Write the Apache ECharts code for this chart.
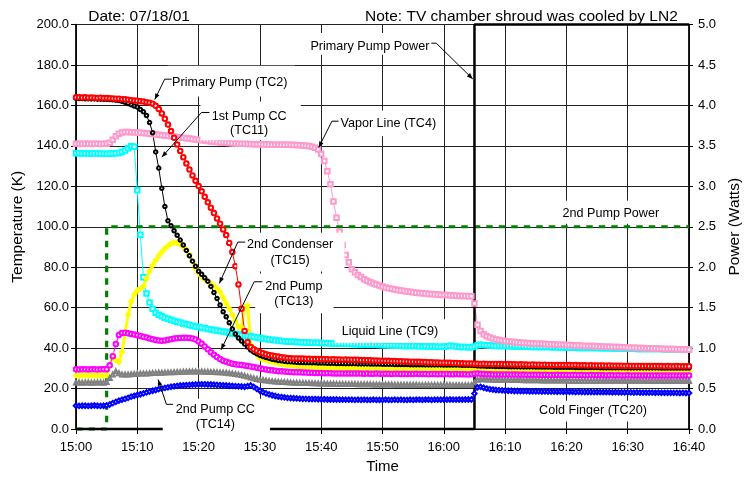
<!DOCTYPE html>
<html><head><meta charset="utf-8">
<script src="https://cdn.jsdelivr.net/npm/echarts@6/dist/echarts.min.js"></script>
<style>html,body{margin:0;padding:0;background:#fff}#c{width:751px;height:479px}</style>
</head><body><div id="c"></div>
<script>
// ---- tick labels ----
const timeTicks = ['15:00','15:10','15:20','15:30','15:40','15:50','16:00','16:10','16:20','16:30','16:40'];
const tempTicks = ['0.0','20.0','40.0','60.0','80.0','100.0','120.0','140.0','160.0','180.0','200.0'];
const powerTicks = ['0.0','0.5','1.0','1.5','2.0','2.5','3.0','3.5','4.0','4.5','5.0'];

// ---- temperatures (K), one logged sample every 0.5 min from 15:00 ----
const sampleStepMin = 0.5;
const tc2 = [ // Primary Pump (TC2)
164,164,163.9,164,163.8,163.9,163.8,163.7,163.8,163.6,
163.6,163.5,163.4,163.3,163.3,163.1,163,162.8,162.6,162.4,
162.3,162.1,161.9,161.6,161.3,160.8,159.8,158.2,156,153.4,
150.5,147.3,144,140.7,137.5,134.4,131.3,128.3,125.4,122.7,
120.1,117.5,114.8,112.1,109.4,106.8,104.1,101.5,98.7,95.9,
92,87.5,80.5,71.5,59.5,48.5,43,40.5,39.4,38.7,
38,37.5,37,36.6,36.3,36,35.8,35.5,35.3,35.1,
35,34.9,34.9,34.8,34.8,34.7,34.7,34.6,34.6,34.6,
34.6,34.5,34.5,34.4,34.5,34.4,34.4,34.3,34.4,34.3,
34.3,34.2,34.3,34.1,34.1,34,34,33.9,33.9,33.8,
33.8,33.7,33.7,33.6,33.6,33.5,33.5,33.4,33.4,33.3,
33.3,33.2,33.2,33.1,33.1,33,33,32.9,32.9,32.8,
32.8,32.7,32.7,32.6,32.6,32.5,32.5,32.4,32.4,32.4,
32.3,32.3,32.2,32.3,32.2,32.2,32.1,32.2,32.1,32.1,
32,32.1,32,32,31.9,32,31.9,31.9,31.8,31.9,
31.8,31.8,31.7,31.8,31.7,31.7,31.7,31.6,31.7,31.6,
31.6,31.6,31.5,31.6,31.5,31.5,31.5,31.4,31.5,31.4,
31.4,31.4,31.4,31.3,31.4,31.3,31.3,31.3,31.3,31.2,
31.3,31.2,31.2,31.2,31.2,31.1,31.2,31.1,31.1,31.1,
31.1,31.1,31,31.1,31,31,31.1,31,31,31,
31];
const tc11 = [ // 1st Pump CC (TC11)
163.5,163.4,163.4,163.3,163.3,163.2,163.2,163.1,163.1,163,
163,162.9,162.8,162.6,162.4,162,161.5,160.9,160.3,159.7,
159.2,158,156.8,155,151.5,146.5,137,129,119,110,
103,100.5,98,95.8,93.4,91,88.3,85.6,83,80.5,
78,76.5,74.8,73,70.5,67.5,64.5,61.3,58,55.5,
52.5,49.5,47,45,43.5,42,40.5,39,38,37.2,
36.4,35.8,35.3,34.9,34.5,34.2,33.9,33.7,33.5,33.3,
33.2,33.1,33,32.9,32.9,32.8,32.8,32.7,32.7,32.6,
32.6,32.6,32.5,32.5,32.5,32.4,32.4,32.4,32.3,32.3,
32.3,32.3,32.2,32.2,32.2,32.2,32.1,32.1,32.1,32.1,
32,32,32,32,31.9,31.9,31.9,31.9,31.9,31.8,
31.8,31.8,31.8,31.8,31.7,31.7,31.7,31.7,31.7,31.7,
31.6,31.6,31.6,31.6,31.6,31.6,31.5,31.5,31.5,31.5,
31.4,31.2,31.1,31.1,31,31,31,30.9,30.9,30.9,
30.9,30.8,30.8,30.8,30.8,30.7,30.7,30.7,30.7,30.7,
30.6,30.6,30.6,30.6,30.6,30.6,30.5,30.5,30.5,30.5,
30.5,30.5,30.5,30.4,30.4,30.4,30.4,30.4,30.4,30.4,
30.4,30.3,30.3,30.3,30.3,30.3,30.3,30.3,30.3,30.3,
30.2,30.2,30.2,30.2,30.2,30.2,30.2,30.2,30.2,30.2,
30.2,30.1,30.1,30.1,30.1,30.1,30.1,30.1,30.1,30.1,
30.1];
const tc4 = [ // Vapor Line (TC4)
141,141,140.9,141,141,140.9,141,141,140.9,141,
141.1,141.5,143,144.8,146,146.6,146.8,146.8,146.7,146.7,
146.6,146.5,146.3,146.2,146,145.8,145.6,145.5,145.3,145.1,
145,144.8,144.6,144.4,144.2,144,143.8,143.6,143.4,143.2,
143,142.8,142.6,142.4,142.2,142,141.9,141.7,141.6,141.5,
141.4,141.3,141.2,141.1,141,141,140.9,140.9,140.8,140.8,
140.8,140.7,140.7,140.7,140.6,140.6,140.6,140.5,140.5,140.5,
140.5,140.4,140.4,140.3,140.2,140.1,139.9,139.6,139,138.2,
136,132.5,127.5,121,112.5,104.5,97.5,91,86,82.5,
79,77.5,76.2,75.1,74.1,73.3,72.6,72,71.4,70.9,
70.4,70,69.6,69.3,69,68.7,68.5,68.2,68,67.8,
67.6,67.4,67.3,67.1,67,66.8,66.7,66.6,66.5,66.4,
66.3,66.2,66.1,66,65.9,65.8,65.8,65.7,65.6,65.6,
62,51.5,48.5,46.8,45.9,45.2,44.7,44.3,44,43.7,
43.5,43.3,43.1,43,42.9,42.7,42.6,42.5,42.4,42.3,
42.2,42.1,42.1,42,41.9,41.9,41.8,41.7,41.7,41.6,
41.5,41.5,41.4,41.3,41.3,41.2,41.1,41.1,41,41,
40.9,40.8,40.8,40.7,40.7,40.6,40.5,40.5,40.4,40.4,
40.3,40.2,40.2,40.1,40.1,40,39.9,39.9,39.8,39.8,
39.7,39.7,39.6,39.6,39.5,39.5,39.4,39.4,39.3,39.3,
39.2];
const tc9 = [ // Liquid Line (TC9)
136.3,136.3,136.2,136.3,136.2,136.2,136.3,136.2,136.2,136.1,
136.1,136.1,136.2,136.3,136.5,136.9,137.7,138.8,139.8,139.5,
118,96,75,67,62.5,59.5,57.5,56.5,55.7,55,
54.5,54,53.5,53,52.6,52.2,51.8,51.4,51,50.7,
50.4,50.1,49.8,49.5,49.2,48.9,48.7,48.4,48.2,47.9,
47.5,47.2,47,46.7,46.5,46.2,46,45.8,45.5,45.3,
45,44.8,44.5,44.3,44.1,43.9,43.7,43.5,43.4,43.3,
43.2,43.1,43,42.9,42.9,42.8,42.7,42.7,42.6,42.6,
42.5,42.5,42.4,42.4,42.3,42.2,42.2,42.1,42.1,42,
42,41.9,41.9,41.8,41.8,41.7,41.7,41.6,41.6,41.5,
41.5,41.4,41.4,41.3,41.3,41.2,41.2,41.1,41.1,41,
41,41,40.9,40.9,40.9,40.8,40.8,40.8,40.7,40.7,
40.7,40.9,41.2,41,40.8,40.6,40.5,40.5,40.4,40.4,
40.8,41.4,41.6,41.5,41.4,41.3,41.2,41.1,41.1,41,
41,40.9,40.9,40.8,40.8,40.8,40.7,40.7,40.7,40.6,
40.6,40.6,40.5,40.5,40.5,40.4,40.4,40.4,40.3,40.3,
40.3,40.2,40.2,40.2,40.1,40.1,40.1,40,40,40,
40,39.9,39.9,39.9,39.9,39.8,39.8,39.8,39.8,39.7,
39.7,39.7,39.7,39.6,39.6,39.6,39.6,39.5,39.5,39.5,
39.5,39.5,39.4,39.4,39.4,39.4,39.3,39.3,39.3,39.3,
39.3];
const tc15 = [ // 2nd Condenser (TC15)
26.5,26.4,26.5,26.5,26.4,26.5,26.4,26.5,26.5,26.4,
26.6,31,36.5,34,33,38,47,56.5,63,66.5,
68.5,69.3,70.5,74.5,78,81,83.5,85.6,87.5,89.2,
90.6,91.6,92.2,92.1,91.2,90,88.6,86.2,83,79.5,
77,75.3,74,73,72,70.8,69.5,67.8,65,62,
59.5,56.5,53.5,50.5,50,60.5,61,41.5,40,37,
35,34.5,34,33.6,33.2,32.8,32.5,32.2,31.9,31.6,
31.4,31.2,31,30.9,30.8,30.7,30.6,30.5,30.5,30.4,
30.3,30.3,30.2,30.2,30.1,30.1,30,30,30,29.9,
29.9,29.9,29.8,29.8,29.8,29.8,29.7,29.7,29.7,29.7,
29.7,29.6,29.6,29.6,29.6,29.6,29.5,29.5,29.5,29.5,
29.5,29.5,29.5,29.4,29.4,29.4,29.4,29.4,29.4,29.4,
29.4,29.4,29.3,29.3,29.3,29.3,29.3,29.3,29.3,29.3,
29.2,29.1,29.1,29.1,29.1,29,29,29,29,29,
29,28.9,28.9,28.9,28.9,28.9,28.9,28.8,28.8,28.8,
28.8,28.8,28.8,28.8,28.7,28.7,28.7,28.7,28.7,28.7,
28.7,28.7,28.6,28.6,28.6,28.6,28.6,28.6,28.6,28.6,
28.6,28.5,28.5,28.5,28.5,28.5,28.5,28.5,28.5,28.5,
28.5,28.5,28.4,28.4,28.4,28.4,28.4,28.4,28.4,28.4,
28.4,28.4,28.4,28.4,28.4,28.3,28.3,28.3,28.3,28.3,
28.3];
const tc13 = [ // 2nd Pump (TC13)
29.5,29.4,29.5,29.5,29.4,29.5,29.5,29.4,29.5,29.5,
29.6,31.5,36,42,46.5,47.5,47.6,47.3,47,46.7,
46.4,46,45.6,45.2,44.8,44.4,44,43.7,43.6,43.8,
44.1,44.4,44.7,44.9,45,45.1,45.1,45,44.8,44.2,
43.3,42.2,40.8,39.4,38,36.7,35.6,34.6,33.8,33.2,
32.7,32.3,32,31.8,31.6,31.4,31.2,30.9,30.6,30.3,
30,29.7,29.4,29.2,29,28.8,28.6,28.5,28.4,28.3,
28.2,28.1,28,28,27.9,27.9,27.8,27.8,27.7,27.7,
27.7,27.6,27.6,27.6,27.5,27.5,27.5,27.5,27.4,27.4,
27.4,27.4,27.4,27.4,27.3,27.4,27.3,27.3,27.4,27.3,
27.3,27.3,27.3,27.2,27.3,27.3,27.2,27.3,27.2,27.2,
27.2,27.3,27.2,27.2,27.2,27.1,27.2,27.2,27.1,27.2,
27.1,27.2,27.1,27.1,27.2,27.1,27.1,27.1,27,27.1,
27.3,27.4,27.3,27.2,27.1,27.1,27,27,27,26.9,
26.9,27,26.9,26.9,26.9,26.8,26.9,26.8,26.8,26.8,
26.8,26.8,26.7,26.8,26.7,26.7,26.7,26.8,26.7,26.7,
26.7,26.6,26.7,26.7,26.6,26.7,26.6,26.6,26.7,26.6,
26.6,26.6,26.6,26.5,26.6,26.6,26.5,26.6,26.5,26.5,
26.6,26.5,26.5,26.5,26.5,26.4,26.5,26.5,26.4,26.5,
26.4,26.5,26.4,26.4,26.4,26.5,26.4,26.4,26.4,26.4,
26.4];
const tc14 = [ // 2nd Pump CC (TC14)
23,23,22.9,23,23,22.9,23,23,23,22.9,
23.2,25.2,27,28.5,27.6,27,26.9,27,27.1,27.2,
27.3,27.4,27.5,27.5,27.6,27.7,27.7,27.8,27.8,27.9,
28,28,28.1,28.2,28.2,28.3,28.3,28.4,28.4,28.4,
28.4,28.4,28.3,28.3,28.2,28.2,28.1,28,27.9,27.8,
27.6,27.4,27.2,27,26.7,26.3,25.9,25.5,25.1,24.7,
24.4,24.2,24,23.8,23.6,23.5,23.4,23.3,23.2,23.1,
23,22.9,22.9,22.8,22.8,22.7,22.7,22.6,22.6,22.5,
22.5,22.5,22.4,22.4,22.4,22.3,22.3,22.3,22.2,22.2,
22.2,22.2,22.1,22.1,22.1,22.1,22.1,22,22,22,
22,22,22,22,21.9,21.9,21.9,21.9,21.9,21.9,
21.9,21.9,21.8,21.8,21.8,21.8,21.8,21.8,21.8,21.8,
21.8,21.8,21.8,21.7,21.7,21.7,21.7,21.7,21.7,21.7,
23,24.4,24.6,24.6,24.5,24.5,24.4,24.4,24.4,24.3,
24.3,24.3,24.2,24.2,24.2,24.2,24.1,24.1,24.1,24.1,
24.1,24.1,24,24,24,24,24,24,24,24,
24,23.9,23.9,23.9,23.9,23.9,23.9,23.9,23.9,23.9,
23.9,23.9,23.8,23.8,23.8,23.8,23.8,23.8,23.8,23.8,
23.8,23.8,23.8,23.8,23.8,23.8,23.8,23.7,23.7,23.7,
23.7,23.7,23.7,23.7,23.7,23.7,23.7,23.7,23.7,23.7,
23.7];
const tc20 = [ // Cold Finger (TC20)
11.5,11.4,11.5,11.5,11.4,11.5,11.6,11.5,11.4,11.5,
11.6,12.1,12.8,13.4,14,14.5,14.9,15.4,16,16.4,
16.8,17.2,17.6,18.1,18.5,18.9,19.3,19.7,20,20.3,
20.6,20.9,21.1,21.3,21.5,21.6,21.7,21.8,21.9,22,
22.1,22.1,22.1,22,22,21.9,21.8,21.7,21.6,21.5,
21.4,21.3,21.2,21.1,21,20.9,21.2,21.5,20.8,19.8,
18.9,18.2,17.6,17.1,16.7,16.3,16,15.8,15.6,15.4,
15.3,15.2,15.1,15,14.9,14.9,14.8,14.8,14.8,14.7,
14.7,14.7,14.6,14.6,14.6,14.6,14.5,14.5,14.5,14.5,
14.5,14.4,14.5,14.4,14.5,14.4,14.4,14.5,14.4,14.4,
14.4,14.5,14.4,14.4,14.5,14.4,14.5,14.4,14.4,14.5,
14.4,14.5,14.5,14.4,14.5,14.5,14.4,14.5,14.5,14.5,
14.5,14.5,14.6,14.5,14.5,14.6,14.5,14.6,14.6,14.6,
17.5,20.6,20.8,20.4,20,19.7,19.5,19.3,19.2,19.1,
19,18.9,18.9,18.8,18.8,18.7,18.7,18.7,18.6,18.6,
18.6,18.6,18.5,18.6,18.5,18.5,18.5,18.4,18.5,18.4,
18.4,18.4,18.4,18.3,18.4,18.3,18.3,18.3,18.3,18.2,
18.3,18.2,18.2,18.2,18.2,18.1,18.2,18.1,18.1,18.1,
18.1,18.1,18,18.1,18,18,18,18,18,17.9,
18,17.9,17.9,17.9,17.9,17.9,17.9,17.8,17.9,17.8,
17.8];

// ---- heater powers (W) ----
const primaryPowerMin = [0, 65, 65, 100];
const primaryPowerW   = [0, 0, 5, 5];
const secondPowerMin  = [0, 5, 5, 100];
const secondPowerW    = [0, 0, 2.5, 2.5];

const minutes = tc2.map((_, i) => i * sampleStepMin);
const pairs = (xs, ys) => ys.map((y, i) => [xs[i], y]);

const FF = '"Liberation Sans", Arial, Helvetica, sans-serif';
function tempSeries(name, vals, color, symbol, size, lw) {
  return {
    name, type: 'line', data: pairs(minutes, vals), yAxisIndex: 0,
    symbol, symbolSize: size, showSymbol: true,
    lineStyle: { color, width: lw },
    itemStyle: { color, borderColor: color, borderWidth: 1 },
    emphasis: { disabled: true }, silent: true
  };
}

const option = {
  animation: false,
  backgroundColor: '#fff',
  grid: { left: 76, right: 58, top: 24.5, bottom: 47.5, show: true, borderColor: '#000', borderWidth: 1, backgroundColor: 'transparent' },
  xAxis: {
    type: 'value', min: 0, max: 100, interval: 10,
    name: 'Time', nameLocation: 'middle', nameGap: 30,
    nameTextStyle: { fontFamily: FF, fontSize: 15, color: '#000' },
    axisLine: { show: true, onZero: false, lineStyle: { color: '#000', width: 1 } },
    axisTick: { show: true, length: 5, lineStyle: { color: '#000' } },
    axisLabel: { fontFamily: FF, fontSize: 13, color: '#000', margin: 12,
      formatter: v => timeTicks[Math.round(v / 10)] },
    splitLine: { show: true, lineStyle: { color: '#222', width: 1 } }
  },
  yAxis: [{
    type: 'value', min: 0, max: 200, interval: 20, position: 'left',
    name: 'Temperature (K)', nameLocation: 'middle', nameRotate: 90, nameGap: 45,
    nameTextStyle: { fontFamily: FF, fontSize: 15.5, color: '#000' },
    axisLine: { show: true, lineStyle: { color: '#000', width: 1.5 } },
    axisTick: { show: true, length: 5, lineStyle: { color: '#000' } },
    axisLabel: { fontFamily: FF, fontSize: 13, color: '#000', margin: 7,
      formatter: v => tempTicks[Math.round(v / 20)] },
    splitLine: { show: true, lineStyle: { color: '#222', width: 1 } }
  }, {
    type: 'value', min: 0, max: 5, interval: 0.5, position: 'right',
    name: 'Power (Watts)', nameLocation: 'middle', nameRotate: 90, nameGap: 36,
    nameTextStyle: { fontFamily: FF, fontSize: 15.5, color: '#000' },
    axisLine: { show: true, lineStyle: { color: '#000', width: 1.5 } },
    axisTick: { show: true, length: 4, lineStyle: { color: '#000' } },
    axisLabel: { fontFamily: FF, fontSize: 13, color: '#000', margin: 9,
      formatter: v => powerTicks[Math.round(v / 0.5)] },
    splitLine: { show: false }
  }],
  series: [
    tempSeries('Liquid Line (TC9)', tc9, '#00ffff', 'emptyRect', 4.5, 1),
    tempSeries('Vapor Line (TC4)', tc4, '#ff99cc', 'emptyRect', 4.5, 1),
    tempSeries('2nd Condenser (TC15)', tc15, '#ffff00', 'diamond', 6, 3),
    tempSeries('1st Pump CC (TC11)', tc11, '#000000', 'emptyCircle', 3.5, 1),
    tempSeries('Primary Pump (TC2)', tc2, '#ff0000', 'emptyCircle', 4.5, 1),
    tempSeries('2nd Pump CC (TC14)', tc14, '#808080', 'emptyTriangle', 4, 1),
    tempSeries('2nd Pump (TC13)', tc13, '#ff00ff', 'emptyCircle', 4.5, 1),
    tempSeries('Cold Finger (TC20)', tc20, '#0000ff', 'emptyDiamond', 4.5, 1),
    { name: '2nd Pump Power', type: 'line', yAxisIndex: 1, data: pairs(secondPowerMin, secondPowerW),
      symbol: 'none', clip: false, silent: true,
      lineStyle: { color: '#008000', width: 3.2, type: [6.5, 6] } },
    { name: 'Primary Pump Power', type: 'line', yAxisIndex: 1, data: pairs(primaryPowerMin, primaryPowerW),
      symbol: 'none', clip: false, silent: true,
      lineStyle: { color: '#000000', width: 2.5 } }
  ]
};

const chart = echarts.init(document.getElementById('c'), null, { renderer: 'canvas' });
chart.setOption(option);

// ---- annotations (positions given in data coordinates: [minutes, K]) ----
const annotations = [
  { lines: ['Date: 07/18/01'], at: [2.0, 203.8], align: 'left', font: '15.5px ' + FF },
  { lines: ['Note: TV chamber shroud was cooled by LN2'], at: [72.66, 203.8], font: '15.5px ' + FF },
  { lines: ['Primary Pump Power'], at: [47.94, 189.1], box: [37.16, 195.8, 59.05, 185.0],
    leader: [[57.96, 190.76], [58.77, 190.76], [64.72, 173.07]] },
  { lines: ['Primary Pump (TC2)'], at: [25.09, 171.4], box: [14.96, 179.6, 35.7, 164.4],
    leader: [[15.61, 172.97], [14.47, 172.97], [12.85, 162.9]] },
  { lines: ['1st Pump CC', '(TC11)'], at: [28.25, 150.9], lh: 14.4, box: [20.31, 161.9, 36.67, 142.75],
    leader: [[21.77, 156.5], [20.47, 156.5], [13.99, 134.4]] },
  { lines: ['Vapor Line (TC4)'], at: [50.94, 150.96], box: [42.19, 157.5, 60.0, 144.7],
    leader: [[42.84, 152.2], [41.75, 152.2], [39.59, 139.2]] },
  { lines: ['2nd Condenser', '(TC15)'], at: [34.93, 87.4], lh: 16, box: [26.3, 97.0, 43.8, 77.9],
    leader: [[27.6, 92.4], [26.39, 92.4], [23.39, 72.0]] },
  { lines: ['2nd Pump', '(TC13)'], at: [35.54, 66.7], lh: 15, box: [29.22, 76.9, 42.03, 57.2],
    leader: [[30.4, 72.8], [29.06, 72.8], [23.66, 39.2]] },
  { lines: ['Liquid Line (TC9)'], at: [51.22, 48.26], box: [42.19, 54.3, 60.67, 42.5] },
  { lines: ['2nd Pump CC', '(TC14)'], at: [22.74, 5.9], lh: 14.4, box: [14.15, 15.0, 31.65, -4.2],
    leader: [[15.82, 12.19], [14.75, 12.19], [13.39, 24.47]] },
  { lines: ['Cold Finger (TC20)'], at: [84.33, 8.94], box: [74.93, 14.0, 93.89, 3.7] },
  { lines: ['2nd Pump Power'], at: [87.24, 106.6], box: [75.74, 112.8, 99.57, 101.5] }
];

const P = (t, v) => chart.convertToPixel({ xAxisIndex: 0, yAxisIndex: 0 }, [t, v]);
const LABEL_FONT = '12.6px ' + FF;
const els = [];
annotations.forEach(a => {
  if (a.box) {
    const p1 = P(a.box[0], a.box[1]), p2 = P(a.box[2], a.box[3]);
    els.push({ type: 'rect', z: 50, silent: true,
      shape: { x: p1[0], y: p1[1], width: p2[0] - p1[0], height: p2[1] - p1[1] },
      style: { fill: '#fff' } });
  }
});
annotations.forEach(a => {
  if (a.leader) {
    const pts = a.leader.map(q => P(q[0], q[1]));
    els.push({ type: 'polyline', z: 60, silent: true, shape: { points: pts },
      style: { stroke: '#000', lineWidth: 1, fill: null } });
    const [x1, y1] = pts[pts.length - 2], [x2, y2] = pts[pts.length - 1];
    const ang = Math.atan2(y2 - y1, x2 - x1), L = 6, W = 2.3;
    const bx = x2 - L * Math.cos(ang), by = y2 - L * Math.sin(ang);
    els.push({ type: 'polygon', z: 61, silent: true,
      shape: { points: [[x2, y2], [bx + W * Math.sin(ang), by - W * Math.cos(ang)], [bx - W * Math.sin(ang), by + W * Math.cos(ang)]] },
      style: { fill: '#000' } });
  }
  const p = P(a.at[0], a.at[1]);
  const al = a.align || 'center';
  els.push({ type: 'text', z: 62, silent: true, x: p[0], y: p[1],
    style: { text: a.lines.join('\n'), font: a.font || LABEL_FONT, fill: '#000',
      textAlign: al, align: al, textVerticalAlign: 'middle', verticalAlign: 'middle',
      lineHeight: a.lh || 15 } });
});
chart.setOption({ graphic: { elements: els } });
</script></body></html>
